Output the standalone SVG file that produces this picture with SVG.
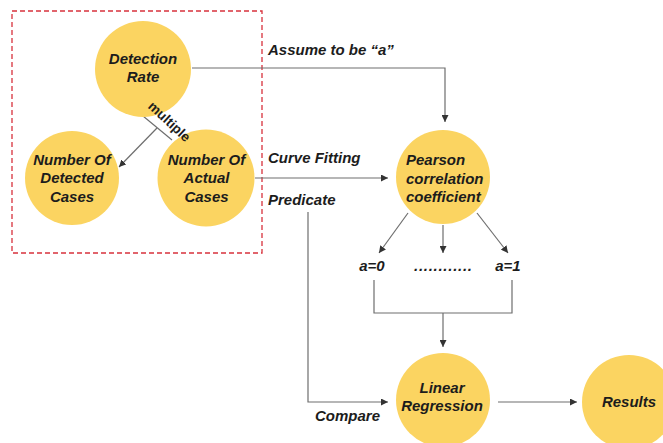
<svg xmlns="http://www.w3.org/2000/svg" width="663" height="443" viewBox="0 0 663 443">
  <style>
    .node { fill: #fbd461; }
    .nt { font-family: "Liberation Sans", Arial, sans-serif; font-weight: bold; font-style: italic; font-size: 15px; fill: #1c1c1c; text-anchor: middle; }
    .nl { text-anchor: start; }
    .lbl { font-family: "Liberation Sans", Arial, sans-serif; font-weight: bold; font-style: italic; font-size: 15px; fill: #1c1c1c; }
    .mid { text-anchor: middle; }
    .edge { fill: none; stroke: #6e6e6e; stroke-width: 1.2; }
    .arr { marker-end: url(#head); }
  </style>
  <defs>
    <marker id="head" viewBox="0 0 10 10" refX="10" refY="5" markerWidth="7" markerHeight="7" markerUnits="userSpaceOnUse" orient="auto">
      <path d="M0,0 L10,5 L0,10 z" fill="#333"/>
    </marker>
  </defs>

  <rect width="663" height="443" fill="#fff"/>

  <!-- dashed group frame -->
  <rect id="group-frame" x="12" y="11" width="250" height="242" fill="none" stroke="#d8323c" stroke-width="1.3" stroke-dasharray="5,3"/>

  <!-- connectors -->
  <g id="connectors">
    <polyline class="edge arr" points="192,68 445,68 445,122"/>
    <line class="edge arr" x1="255" y1="178" x2="388" y2="178"/>
    <polyline class="edge arr" points="308,212 308,402 388,402"/>
    <line class="edge arr" x1="498" y1="402" x2="577" y2="402"/>
    <line class="edge arr" x1="408" y1="213" x2="379" y2="253"/>
    <line class="edge arr" x1="443" y1="225" x2="443" y2="253"/>
    <line class="edge arr" x1="477" y1="213" x2="508" y2="253"/>
    <polyline class="edge" points="374,280 374,313 512,313 512,280"/>
    <line class="edge arr" x1="443" y1="313" x2="443" y2="347"/>
    <line class="edge" x1="143" y1="116" x2="172" y2="140"/>
    <line class="edge arr" x1="157" y1="128" x2="119" y2="167"/>
  </g>

  <g id="detection-rate">
    <circle class="node" cx="143" cy="69" r="48"/>
    <text class="nt" x="143" y="64">Detection</text>
    <text class="nt" x="143" y="82">Rate</text>
  </g>

  <g id="detected-cases">
    <circle class="node" cx="72" cy="178" r="47"/>
    <text class="nt" x="72" y="165">Number Of</text>
    <text class="nt" x="72" y="183">Detected</text>
    <text class="nt" x="72" y="201.5">Cases</text>
  </g>

  <g id="actual-cases">
    <circle class="node" cx="206" cy="178" r="48.5"/>
    <text class="nt" x="206.5" y="165">Number Of</text>
    <text class="nt" x="206.5" y="183">Actual</text>
    <text class="nt" x="206.5" y="201.5">Cases</text>
  </g>

  <g id="pearson">
    <circle class="node" cx="443" cy="177" r="47"/>
    <text class="nt nl" x="406" y="165">Pearson</text>
    <text class="nt nl" x="406" y="183.5">correlation</text>
    <text class="nt nl" x="406" y="201.5">coefficient</text>
  </g>

  <g id="linear-regression">
    <circle class="node" cx="443" cy="400" r="47"/>
    <text class="nt" x="442" y="393">Linear</text>
    <text class="nt" x="442" y="411">Regression</text>
  </g>

  <g id="results">
    <circle class="node" cx="629" cy="402" r="47"/>
    <text class="nt" x="629" y="407">Results</text>
  </g>

  <!-- connector labels -->
  <g id="labels">
    <text class="lbl" x="268" y="55">Assume to be “a”</text>
    <text class="lbl" x="268" y="163">Curve Fitting</text>
    <text class="lbl" x="268" y="205">Predicate</text>
    <text class="lbl" x="315" y="421">Compare</text>
    <text class="lbl mid" x="372" y="271">a=0</text>
    <text class="lbl mid" x="443" y="271" textLength="58">............</text>
    <text class="lbl mid" x="508" y="271">a=1</text>
    <text x="169" y="126" font-family="Liberation Sans, Arial, sans-serif" font-weight="bold" font-size="13.5" fill="#1c1c1c" text-anchor="middle" transform="rotate(43 169 122)">multiple</text>
  </g>
</svg>
